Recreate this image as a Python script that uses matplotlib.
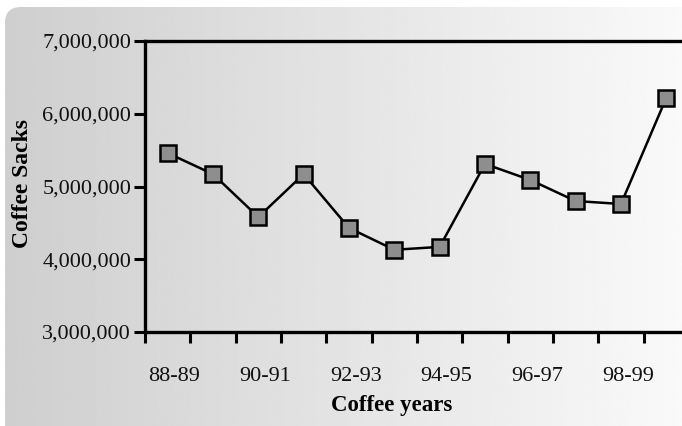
import matplotlib
matplotlib.use("Agg")
import matplotlib.pyplot as plt
import numpy as np
from matplotlib.patches import FancyBboxPatch
from matplotlib.ticker import FuncFormatter, FixedLocator

years = ["88-89", "89-90", "90-91", "91-92", "92-93", "93-94",
         "94-95", "95-96", "96-97", "97-98", "98-99", "99-00"]
sacks = [5460000, 5170000, 4580000, 5170000, 4430000, 4130000,
         4170000, 5310000, 5090000, 4800000, 4760000, 6220000]
y_ticks = [3000000, 4000000, 5000000, 6000000, 7000000]

W, H = 682, 426
fig = plt.figure(figsize=(W / 100, H / 100), dpi=100)
fig.patch.set_facecolor("white")

# background with gradient and rounded corners
bg = fig.add_axes([0, 0, 1, 1])
bg.set_xlim(0, W)
bg.set_ylim(0, H)
bg.axis("off")
grad = np.linspace(0.81, 0.985, 256).reshape(1, -1)
img = bg.imshow(grad, cmap="gray", vmin=0, vmax=1, extent=[5, W + 30, -30, H - 7],
                aspect="auto", zorder=0)
clip = FancyBboxPatch((5, -30), W + 30, H - 7 + 30, boxstyle="round,pad=0,rounding_size=16",
                      transform=bg.transData, facecolor="none", edgecolor="none")
bg.add_patch(clip)
img.set_clip_path(clip)

font = "Liberation Serif"
ax = fig.add_axes([145 / W, (H - 332) / H, 544 / W, (332 - 41) / H])
ax.patch.set_alpha(0)
x = np.arange(len(years))
ax.plot(x, sacks, color="black", lw=1.8, marker="s", markersize=11.5,
        markerfacecolor="#8e8e8e", markeredgecolor="black", markeredgewidth=1.8,
        zorder=3, clip_on=False)
ax.set_xlim(-0.5, len(years) - 0.5)
ax.set_ylim(3000000, 7000000)

ax.set_yticks(y_ticks)
ax.yaxis.set_major_formatter(FuncFormatter(lambda v, p: f"{int(v):,}"))
ax.xaxis.set_major_locator(FixedLocator(np.arange(-0.5, len(years) - 0.5, 1.0)))
ax.xaxis.set_major_formatter(FuncFormatter(lambda v, p: ""))
ax.xaxis.set_minor_locator(FixedLocator(x[::2] + 0.15))
ax.set_xticklabels([years[i] for i in x[::2]], minor=True)
ax.tick_params(axis="x", which="minor", length=0, pad=25)
ax.tick_params(axis="x", which="major", length=8, width=2.2, direction="out")
ax.tick_params(axis="y", length=8, width=2.2, direction="out", pad=2)

for lab in ax.get_yticklabels() + ax.get_xticklabels(minor=True):
    lab.set_fontfamily(font)
    lab.set_fontsize(16)
    lab.set_color("#111111")

for s in ["left", "bottom", "top"]:
    ax.spines[s].set_linewidth(2.4)
    ax.spines[s].set_color("black")
ax.spines["right"].set_visible(False)

ax.set_ylabel("Coffee Sacks", fontfamily=font, fontsize=17, fontweight="bold")
ax.yaxis.set_label_coords(-112 / 544, 0.51)
ax.set_xlabel("Coffee years", fontfamily=font, fontsize=16.5, fontweight="bold")
ax.xaxis.set_label_coords((392 - 145) / 544, -(406 - 332) / 291)
ax.xaxis.label.set_va("center")

fig.savefig("out.png", dpi=100)
